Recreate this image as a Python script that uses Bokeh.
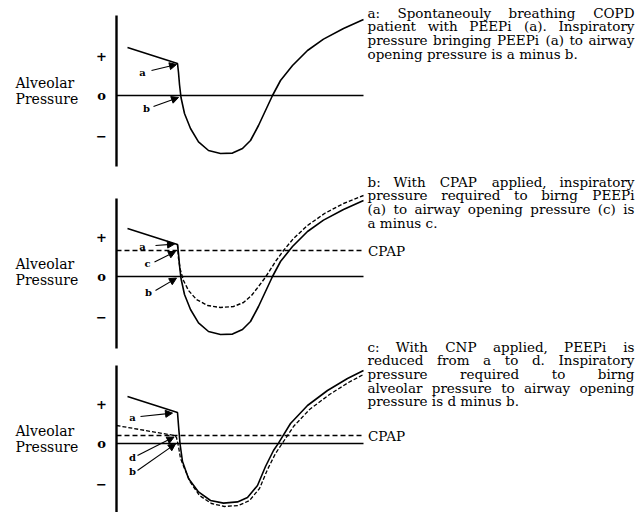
from bokeh.plotting import figure
from bokeh.models import Range1d, Arrow, NormalHead
from bokeh.core.properties import value
from bokeh.embed import file_html
from bokeh.resources import INLINE

# ---------------- data (time: arbitrary units, 0 = start of panel; pressure: arbitrary units, 0 = airway opening) ----
# spontaneous breathing alveolar pressure (panels a and b, solid)
t_spont = [4.4, 24.4, 24.8, 25.2, 25.8, 27.2, 29.6, 32.8, 36.8, 41.6, 46.4, 50.4,
           53.6, 56.8, 59.6, 62.4, 65.6, 70.4, 76.4, 82.8, 90.8, 98.8]
p_spont = [12.0, 8.0, 5.75, 2.75, -0.5, -4.5, -8.25, -11.6, -13.75, -14.5, -14.4, -13.25,
           -11.25, -7.5, -3.75, 0.0, 3.75, 7.5, 11.25, 14.1, 16.75, 19.0]
# with CPAP (panel b, dashed)
t_cpap = [24.4, 24.8, 25.6, 26.8, 28.8, 32.0, 36.4, 41.6, 46.8, 50.8, 54.0, 56.8,
          59.2, 60.8, 63.6, 66.8, 70.8, 76.4, 83.2, 90.8, 98.8]
p_cpap = [8.0, 4.5, 1.5, -1.0, -3.5, -5.75, -7.25, -7.75, -7.5, -6.5, -4.75, -2.5,
          -0.5, 1.0, 3.75, 6.5, 9.5, 12.75, 15.75, 18.25, 20.25]
# panel c, solid
t_c_solid = [4.4, 24.4, 24.8, 25.4, 26.4, 28.8, 32.8, 37.6, 42.8, 48.4, 52.4, 56.4,
             59.6, 62.8, 64.8, 69.6, 76.4, 84.4, 92.4, 98.8]
p_c_solid = [11.75, 7.75, 4.5, 0.0, -4.5, -8.75, -12.1, -14.25, -14.9, -14.6, -13.5, -10.5,
             -5.75, -1.75, 0.1, 5.0, 9.5, 13.25, 16.25, 18.25]
# panel c, with CNP (dashed)
t_c_cnp = [0.0, 23.2, 24.0, 24.8, 25.6, 27.2, 29.6, 33.2, 38.0, 43.2, 48.8, 53.2,
           57.2, 60.4, 63.6, 66.0, 70.8, 77.2, 85.2, 92.8, 98.8]
p_c_cnp = [4.5, 2.0, 1.5, -0.75, -3.75, -6.25, -9.75, -13.0, -15.0, -15.75, -15.5, -14.25,
           -11.25, -6.5, -2.5, -0.25, 4.25, 8.5, 12.25, 15.25, 17.25]

cpap_level = {"p2": 6.5, "p3": 2.0}
t_end = 98.8
tick_values = [10, 0, -10]
tick_labels = ["+", "o", "\u2212"]
y_title = ["Alveolar", "Pressure"]

captions = {
    "p1": ["a: Spontaneouly breathing COPD", "patient with PEEPi (a). Inspiratory",
           "pressure bringing PEEPi (a) to airway", "opening pressure is a minus b."],
    "p2": ["b: With CPAP applied, inspiratory", "pressure required to birng PEEPi",
           "(a) to airway opening pressure (c) is", "a minus c."],
    "p3": ["c: With CNP applied, PEEPi is", "reduced from a to d. Inspiratory",
           "pressure required to birng", "alveolar pressure to airway opening",
           "pressure is d minus b."],
}
justified = {"p1": [1, 1, 1, 0], "p2": [1, 1, 1, 0], "p3": [1, 1, 1, 1, 0]}
caption_top = {"p1": 20.75, "p2": 23.75, "p3": 24.25}

# arrow labels: (label, label_t, label_p, t_start, p_start, t_end, p_end)
arrows = {
    "p1": [("a", 10.4, 5.75, 14.0, 6.25, 24.0, 7.75),
           ("b", 12.0, -3.25, 14.8, -2.75, 24.8, -0.5)],
    "p2": [("a", 10.4, 7.5, 15.6, 7.75, 23.2, 8.1),
           ("c", 12.4, 3.25, 15.2, 3.6, 23.6, 6.25),
           ("b", 12.8, -4.0, 15.6, -3.5, 24.0, -0.4)],
    "p3": [("a", 6.4, 6.5, 9.6, 6.75, 22.4, 7.6),
           ("d", 6.4, -3.5, 8.4, -3.0, 23.0, 1.6),
           ("b", 6.4, -7.0, 8.4, -6.75, 23.6, -0.1)],
}
axis_extent = {"p1": (20.0, -17.75), "p2": (19.5, -18.0), "p3": (19.5, -20.0)}

# ---------------- layout ----------------
PANEL_Y = {"p1": (-104.25, 23.75), "p2": (-59.0, 69.0), "p3": (-17.25, 110.75)}
PX_PER_T = 2.5
PX_PER_P = 4.0
TXT_L, TXT_R = 100.4, 207.2
FS = 13.5
LINE_STEP = 13.7 / PX_PER_P
SERIF = value("DejaVu Serif")

p = figure(width=636, height=512, x_range=Range1d(-46.4, 208.0),
           y_range=Range1d(*PANEL_Y["p1"]), toolbar_location=None, output_backend="svg",
           min_border=0, x_axis_location=None, y_axis_location=None)
p.extra_y_ranges = {k: Range1d(*PANEL_Y[k]) for k in ("p2", "p3")}
p.grid.visible = False
p.outline_line_color = None
p.background_fill_color = "white"
p.border_fill_color = "white"

EM = {' ': 0.318, 'a': 0.596, 'b': 0.640, 'c': 0.560, 'd': 0.640, 'e': 0.592, 'f': 0.370,
      'g': 0.640, 'h': 0.644, 'i': 0.320, 'j': 0.310, 'k': 0.606, 'l': 0.320, 'm': 0.948,
      'n': 0.644, 'o': 0.602, 'p': 0.640, 'q': 0.640, 'r': 0.478, 's': 0.513, 't': 0.402,
      'u': 0.644, 'v': 0.565, 'w': 0.856, 'x': 0.564, 'y': 0.565, 'z': 0.527, 'A': 0.722,
      'C': 0.765, 'D': 0.802, 'E': 0.730, 'I': 0.394, 'N': 0.872, 'O': 0.820, 'P': 0.703,
      'S': 0.685, 'W': 1.103, '.': 0.318, ',': 0.318, ':': 0.337, '(': 0.390, ')': 0.390}


def em_width(s):
    return sum(EM.get(ch, 0.6) for ch in s)


def rn(k):
    return "default" if k == "p1" else k


for k in ("p1", "p2", "p3"):
    r = rn(k)
    top, bot = axis_extent[k]
    p.segment(x0=[0], y0=[top], x1=[0], y1=[bot], line_color="black", line_width=2.4, y_range_name=r)
    p.segment(x0=[0], y0=[0], x1=[t_end], y1=[0], line_color="black", line_width=1.3, y_range_name=r)
    if k in cpap_level:
        lv = cpap_level[k]
        p.segment(x0=[0], y0=[lv], x1=[t_end], y1=[lv], line_color="black", line_width=1.3,
                  line_dash="5 3", y_range_name=r)
        p.text(x=[TXT_L + 0.2], y=[lv], text=["CPAP"], text_font=SERIF, text_font_size=f"{FS}px",
               text_baseline="middle", text_align="left", y_range_name=r)
    # tick marks
    p.text(x=[-6] * 3, y=tick_values, text=tick_labels, text_font=value("DejaVu Serif"),
           text_font_style="bold", text_font_size="13px", text_align="center",
           text_baseline="middle", y_range_name=r)
    # y title
    p.text(x=[-40.4] * 2, y=[3.25, -0.75], text=y_title, text_font=SERIF, text_font_size="14px",
           text_align="left", text_baseline="middle", y_range_name=r)
    # captions
    xl, yl, tl, xr, yr, tr = [], [], [], [], [], []
    for i, (line, j) in enumerate(zip(captions[k], justified[k])):
        y = caption_top[k] - i * LINE_STEP
        if not j:
            xl.append(TXT_L); yl.append(y); tl.append(line)
            continue
        words = line.split(" ")
        widths = [em_width(w) * FS / PX_PER_T for w in words]
        gap = (TXT_R - TXT_L - sum(widths)) / (len(words) - 1)
        x = TXT_L
        for n, (w, wd) in enumerate(zip(words, widths)):
            if n == len(words) - 1:
                xr.append(TXT_R); yr.append(y); tr.append(w)
            else:
                xl.append(x); yl.append(y); tl.append(w)
            x += wd + gap
    p.text(x=xl, y=yl, text=tl, text_font=SERIF, text_font_size=f"{FS}px",
           text_align="left", text_baseline="middle", y_range_name=r)
    p.text(x=xr, y=yr, text=tr, text_font=SERIF, text_font_size=f"{FS}px",
           text_align="right", text_baseline="middle", y_range_name=r)
    # arrows
    for lab, lt, lp, t0, p0, t1, p1 in arrows[k]:
        p.add_layout(Arrow(x_start=t0, y_start=p0, x_end=t1, y_end=p1, line_width=1.1,
                           line_color="black", y_range_name=r,
                           end=NormalHead(size=7, fill_color="black", line_color="black", line_width=1)))
        p.text(x=[lt], y=[lp], text=[lab], text_font=SERIF, text_font_style="bold",
               text_font_size="10px", text_align="center", text_baseline="middle", y_range_name=r)

# curves
p.line(t_spont, p_spont, line_color="black", line_width=1.6)
p.line(t_spont, p_spont, line_color="black", line_width=1.6, y_range_name="p2")
p.line(t_cpap, p_cpap, line_color="black", line_width=1.4, line_dash="4 2", y_range_name="p2")
p.line(t_c_solid, p_c_solid, line_color="black", line_width=1.6, y_range_name="p3")
p.line(t_c_cnp, p_c_cnp, line_color="black", line_width=1.3, line_dash="4 2", y_range_name="p3")

open("out.html", "w").write(file_html(p, INLINE))
